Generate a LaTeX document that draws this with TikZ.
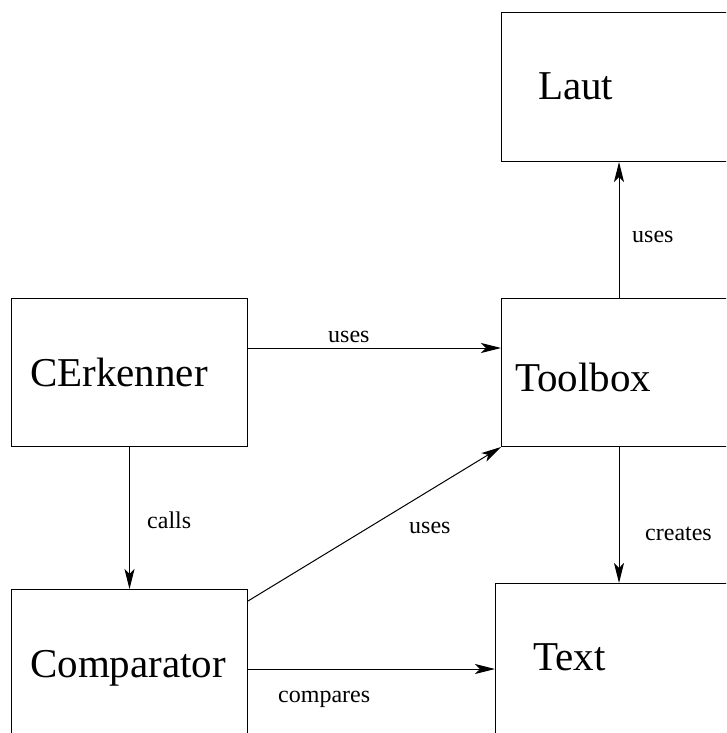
\documentclass[tikz,border=0pt]{standalone}
\usepackage{fontspec}
\setmainfont{Liberation Serif}
\newfontfamily\diagfont{Liberation Serif}
\usetikzlibrary{arrows.meta}
\begin{document}
\begin{tikzpicture}[x=1pt,y=-1pt,
  box/.style={draw,line width=1pt,rectangle,inner sep=0pt,anchor=north west},
  boxtitle/.style={anchor=base west,inner sep=0pt,font=\diagfont\fontsize{41}{41}\selectfont},
  lbl/.style={anchor=base west,inner sep=0pt,font=\diagfont\fontsize{24}{24}\selectfont},
  arr/.style={line width=1pt,-{Stealth[length=20pt,width=10pt,inset=5pt]}}]
\useasboundingbox (0,0) rectangle (726,733);
\clip (0,0) rectangle (726,733);
% boxes (some run past the page edge)
\node[box,minimum width=259pt,minimum height=149pt] (laut) at (501,12) {};
\node[box,minimum width=259pt,minimum height=148pt] (tool) at (501,298) {};
\node[box,minimum width=236pt,minimum height=148pt] (cerk) at (11,298) {};
\node[box,minimum width=236pt,minimum height=171pt] (comp) at (11,589) {};
\node[box,minimum width=265pt,minimum height=177pt] (text) at (495,583) {};
% box titles
\node[boxtitle] (tlaut) at (538,100) {Laut};
\node[boxtitle] (ttool) at (515,391) {Toolbox};
\node[boxtitle] (tcerk) at (30,386) {CErkenner};
\node[boxtitle] (tcomp) at (30,677) {Comparator};
\node[boxtitle] (ttext) at (533,670) {Text};
% connectors
\coordinate (ytop) at (0,348);
\coordinate (ycmp) at (0,669);
\coordinate (ydiag) at (0,601);
\coordinate (xtool) at (619,0);
\draw[arr] (cerk.east |- ytop) -- (tool.west |- ytop);
\draw[arr] (cerk.south) -- (comp.north);
\draw[arr] (comp.east |- ydiag) -- (tool.south west);
\draw[arr] (comp.east |- ycmp) -- (text.west |- ycmp);
\draw[arr] (tool.north -| xtool) -- (laut.south -| xtool);
\draw[arr] (tool.south -| xtool) -- (text.north -| xtool);
% connector labels
\node[lbl] (l1) at (328,342) {uses};
\node[lbl] (l2) at (147,528) {calls};
\node[lbl] (l3) at (409,533) {uses};
\node[lbl] (l4) at (632,242) {uses};
\node[lbl] (l5) at (645,540) {creates};
\node[lbl] (l6) at (278,702) {compares};
\end{tikzpicture}
\end{document}
